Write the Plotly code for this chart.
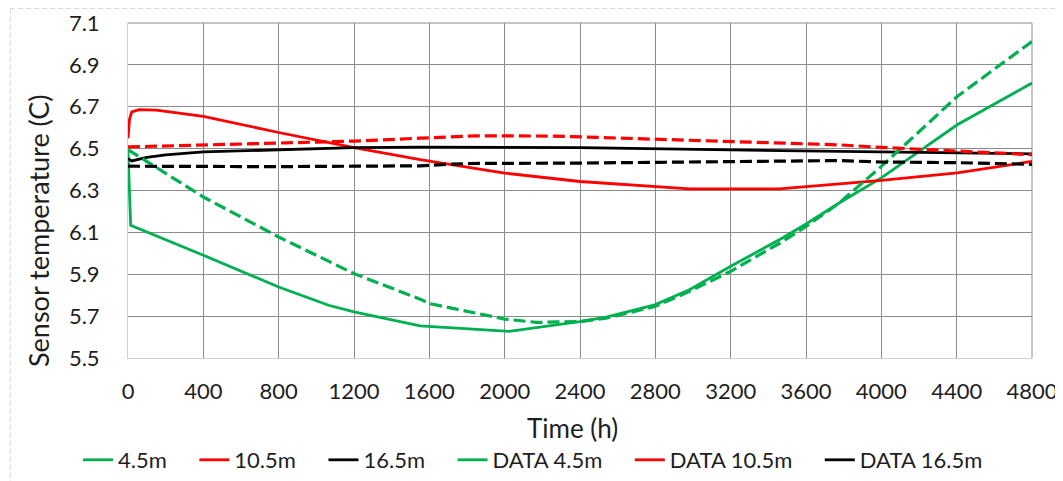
import plotly.graph_objects as go

# ---------------- data ----------------
t_m45 = [0, 14, 400, 800, 1065, 1200, 1551, 2024, 2398, 2539, 2797, 2981, 3198, 3475, 3600, 3776, 4000, 4403, 4800]
v_m45 = [6.49, 6.134, 5.991, 5.839, 5.752, 5.720, 5.653, 5.627, 5.674, 5.695, 5.754, 5.826, 5.937, 6.073, 6.140, 6.24, 6.36, 6.614, 6.813]

t_m105 = [0, 8, 20, 60, 150, 400, 800, 1200, 1551, 2000, 2400, 2800, 2981, 3458, 3776, 4000, 4403, 4800]
v_m105 = [6.55, 6.64, 6.675, 6.686, 6.684, 6.654, 6.577, 6.505, 6.447, 6.383, 6.343, 6.319, 6.308, 6.308, 6.330, 6.348, 6.384, 6.439]

t_m165 = [0, 20, 100, 200, 400, 800, 1200, 1551, 2400, 3200, 3776, 4400, 4800]
v_m165 = [6.452, 6.441, 6.458, 6.470, 6.484, 6.495, 6.505, 6.507, 6.505, 6.494, 6.488, 6.482, 6.475]

t_d45 = [0, 400, 800, 1200, 1551, 1600, 2000, 2169, 2398, 2539, 2797, 2981, 3198, 3475, 3600, 3776, 4000, 4403, 4800]
v_d45 = [6.495, 6.269, 6.078, 5.903, 5.781, 5.760, 5.686, 5.670, 5.674, 5.690, 5.746, 5.818, 5.913, 6.056, 6.128, 6.24, 6.415, 6.749, 7.012]

t_d105 = [0, 400, 800, 1200, 1551, 1851, 2257, 2800, 3200, 3600, 3776, 4000, 4403, 4800]
v_d105 = [6.508, 6.518, 6.526, 6.536, 6.550, 6.561, 6.560, 6.545, 6.534, 6.526, 6.518, 6.506, 6.490, 6.471]

t_d165 = [0, 400, 800, 1200, 1551, 1700, 1815, 2400, 3200, 3776, 4000, 4400, 4800]
v_d165 = [6.416, 6.414, 6.414, 6.416, 6.418, 6.425, 6.429, 6.431, 6.438, 6.443, 6.436, 6.433, 6.425]

series_names = ["4.5m", "10.5m", "16.5m", "DATA 4.5m", "DATA 10.5m", "DATA 16.5m"]
x_ticks = [0, 400, 800, 1200, 1600, 2000, 2400, 2800, 3200, 3600, 4000, 4400, 4800]
y_ticks = [5.5, 5.7, 5.9, 6.1, 6.3, 6.5, 6.7, 6.9, 7.1]

# ---------------- styling ----------------
GREEN = "#00B050"
RED = "#FF0000"
BLACK = "#000000"
FONT = "Lato"
DASH = "12px,5px"
TXT = "#1e1e1e"
GRID = "#8c8c8c"

series = [
    (t_m45, v_m45, GREEN, "solid", 2.8),
    (t_m105, v_m105, RED, "solid", 2.8),
    (t_m165, v_m165, BLACK, "solid", 2.8),
    (t_d45, v_d45, GREEN, DASH, 3.2),
    (t_d105, v_d105, RED, DASH, 3.2),
    (t_d165, v_d165, BLACK, DASH, 3.2),
]

fig = go.Figure()
for (tx, vy, col, dash, lw), name in zip(series, series_names):
    fig.add_trace(go.Scatter(x=tx, y=vy, mode="lines", name=name, showlegend=False,
                             line=dict(color=col, width=lw, dash=dash)))

# legend entries (solid swatches, as in the reference)
pad = "\u00a0" * 4
for i, ((tx, vy, col, dash, lw), name) in enumerate(zip(series, series_names)):
    label = name + (pad if i < len(series_names) - 1 else "")
    fig.add_trace(go.Scatter(x=[None], y=[None], mode="lines", name=label,
                             line=dict(color=col, width=2.8)))

# page layout (browser body has an 8px margin, so the figure is offset by it)
OFF = 8
PAGE_W, PAGE_H = 1063, 481
W, H = PAGE_W - OFF, PAGE_H - OFF
PLOT_L, PLOT_R, PLOT_T, PLOT_B = 128, 1032, 23, 358          # page pixels
ML, MT = PLOT_L - OFF, PLOT_T - OFF
MR, MB = W - (PLOT_R - OFF), H - (PLOT_B - OFF)
PW, PH = PLOT_R - PLOT_L, PLOT_B - PLOT_T


def px_x(p):
    return (p - PLOT_L) / PW


def px_y(p):
    return (PLOT_B - p) / PH


fig.update_layout(
    width=W, height=H,
    margin=dict(l=ML, r=MR, t=MT, b=MB, autoexpand=False),
    paper_bgcolor="white", plot_bgcolor="white",
    font=dict(family=FONT, size=22, color=TXT),
    showlegend=True,
    legend=dict(orientation="h", xref="paper", yref="paper",
                x=px_x(78), xanchor="left", y=px_y(460), yanchor="middle",
                font=dict(family=FONT, size=22, color=TXT), itemwidth=30,
                bgcolor="rgba(0,0,0,0)"),
    xaxis=dict(range=[0, 4800], tickvals=x_ticks, ticktext=[str(v) for v in x_ticks],
               showgrid=True, gridcolor=GRID, gridwidth=1, zeroline=False,
               showline=True, linecolor="#d0d0d0", linewidth=1,
               ticks="", ticklabelstandoff=14, automargin=False,
               tickfont=dict(family=FONT, size=22, color=TXT)),
    yaxis=dict(range=[5.5, 7.1], tickvals=y_ticks, ticktext=["%.1f" % v for v in y_ticks],
               showgrid=True, gridcolor=GRID, gridwidth=1, zeroline=False,
               showline=True, linecolor="#d0d0d0", linewidth=1,
               ticks="", ticklabelstandoff=23, automargin=False,
               tickfont=dict(family=FONT, size=22, color=TXT)),
    annotations=[
        dict(text="Time (h)", xref="paper", yref="paper", x=px_x(572), y=px_y(428),
             xanchor="center", yanchor="middle", showarrow=False,
             font=dict(family=FONT, size=26, color=TXT)),
        dict(text="Sensor temperature (C)", xref="paper", yref="paper", x=px_x(38), y=px_y(231),
             xanchor="center", yanchor="middle", showarrow=False, textangle=-90,
             font=dict(family=FONT, size=27, color=TXT)),
    ],
    shapes=[
        dict(type="line", xref="paper", yref="paper", x0=0, x1=1, y0=1, y1=1,
             line=dict(color=GRID, width=1), layer="below"),
        dict(type="line", xref="paper", yref="paper", x0=1, x1=1, y0=0, y1=1,
             line=dict(color=GRID, width=1), layer="below"),
        dict(type="line", xref="paper", yref="paper", x0=px_x(10), x1=px_x(PAGE_W), y0=px_y(8.5), y1=px_y(8.5),
             line=dict(color="#d9d9d9", width=1, dash="5px,3px")),
        dict(type="line", xref="paper", yref="paper", x0=px_x(10.5), x1=px_x(10.5), y0=px_y(8.5), y1=px_y(PAGE_H),
             line=dict(color="#d9d9d9", width=1, dash="5px,3px")),
    ],
)

fig.write_html("out.html")
